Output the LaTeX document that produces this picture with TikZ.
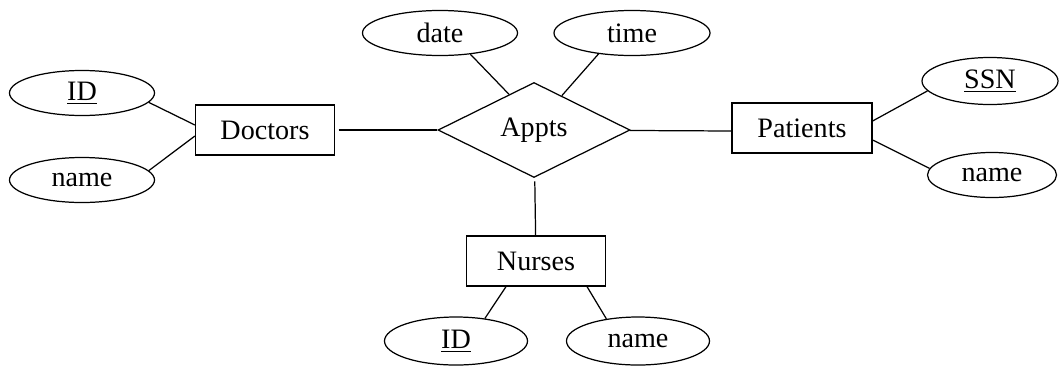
\documentclass[tikz,border=0pt]{standalone}
\usepackage{fontspec}
\setmainfont{Liberation Serif}
\usetikzlibrary{shapes.geometric}

\begin{document}
\begin{tikzpicture}[
  font=\fontsize{16}{19}\selectfont,
  line width=0.7pt,
  entity/.style={draw=black, rectangle, minimum width=2.78cm, minimum height=1.0cm,
    inner sep=0pt},
  attr/.style={draw=black, ellipse, minimum width=2.9cm, minimum height=0.9cm,
    inner sep=0pt},
  rel/.style={draw=black, diamond, minimum width=3.84cm, minimum height=1.9cm,
    inner sep=0pt},
  link/.style={draw=black, line width=0.7pt}
]
\useasboundingbox (0,0) rectangle (21.2,-7.3);

% Doctors and its attributes
\node[entity] (doctors) at (5.30,-2.60) {Doctors};
\node[attr] (docid) at (1.64,-1.86) {\underline{ID}};
\node[attr] (docname) at (1.64,-3.60) {name};
\draw[link] (docid.-8) -- ([yshift=1mm]doctors.west);
\draw[link] (docname.8) -- ([yshift=-1.2mm]doctors.west);

% the relationship with its own attributes
\node[rel] (appts) at (10.68,-2.60) {Appts};
\node[attr, minimum width=3.1cm] (date) at (8.80,-0.66) {date};
\node[attr, minimum width=3.12cm] (time) at (12.64,-0.66) {time};
\draw[link] (date.-35) -- (appts.125);
\draw[link] (time.-148) -- (appts.51);
\draw[link, shorten <=2pt] (doctors) -- (appts);

% Patients
\node[entity, minimum width=2.80cm] (patients) at (16.04,-2.56) {Patients};
\node[attr, minimum width=2.72cm, minimum height=0.94cm] (ssn) at (19.80,-1.62) {\underline{SSN}};
\node[attr, minimum width=2.58cm] (patname) at (19.84,-3.50) {name};
\draw[link] (appts) -- ([yshift=-0.6mm]patients.west);
\draw[link] ([yshift=1.4mm]patients.east) -- (ssn.189);
\draw[link] ([yshift=-2.4mm]patients.east) -- (patname.174);

% Nurses
\node[entity] (nurses) at (10.72,-5.22) {Nurses};
\node[attr, minimum width=2.86cm, minimum height=0.96cm] (nurid) at (9.12,-6.82) {\underline{ID}};
\node[attr, minimum width=2.86cm, minimum height=0.96cm] (nurname) at (12.76,-6.82) {name};
\draw[link, shorten <=2pt] (appts) -- (nurses);
\draw[link] ([xshift=-6mm]nurses.south) -- (nurid.38);
\draw[link] ([xshift=10.2mm]nurses.south) -- (nurname.145);
\end{tikzpicture}
\end{document}
